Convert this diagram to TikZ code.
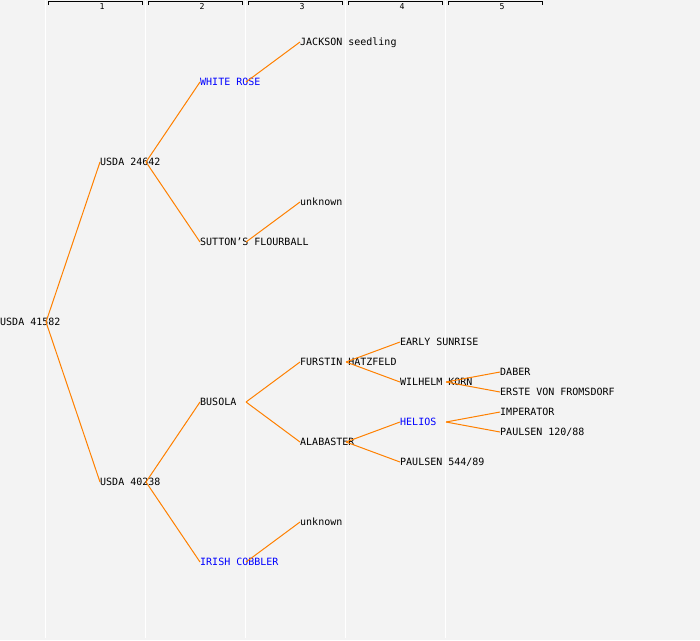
\documentclass[tikz,border=0pt]{standalone}
\usepackage{fontspec}
\setmonofont{DejaVu Sans Mono}
\definecolor{pagegray}{RGB}{243,243,243}
\definecolor{linkorange}{RGB}{255,128,0}

\begin{document}
\begin{tikzpicture}[x=1pt,y=-1pt,
    cv/.style={anchor=west,inner sep=0pt,text height=7.3pt,text depth=0pt,
      font=\ttfamily\fontsize{10}{10}\selectfont},
    rare/.style={text=blue},
    link/.style={draw=linkorange,line width=1pt},
    genline/.style={draw=white,line width=1pt},
    genno/.style={inner sep=0pt,font=\ttfamily\fontsize{8.2}{9}\selectfont},
   ]
   \fill[pagegray] (0,0) rectangle (700,640);
   \useasboundingbox (0,0) rectangle (700,640);
   \foreach \g in {1,...,5}{
     \draw[genline] ({100*\g-55},0) -- ({100*\g-55},638);
     \draw[line width=1pt] ({100*\g-52},5) -- ({100*\g-52},1.5) -- ({100*\g+42},1.5) -- ({100*\g+42},5);
     \node[genno] (g\g) at ({100*\g+2},6.5) {\g};
   }
   \begin{scope}[nodes={cv}]
     \path (0,322) node (root) {USDA 41582}
       (100,162) node (p) {USDA 24642}
       (100,482) node (m) {USDA 40238}
       (200,82) node[rare] (pp) {WHITE ROSE}
       (200,242) node (pm) {SUTTON’S FLOURBALL}
       (200,402) node (mp) {BUSOLA}
       (200,562) node[rare] (mm) {IRISH COBBLER}
       (300,42) node (ppp) {JACKSON seedling}
       (300,202) node (pmp) {unknown}
       (300,362) node (mpp) {FURSTIN HATZFELD}
       (300,442) node (mpm) {ALABASTER}
       (300,522) node (mmp) {unknown}
       (400,342) node (mppp) {EARLY SUNRISE}
       (400,382) node (mppm) {WILHELM KORN}
       (400,422) node[rare] (mpmp) {HELIOS}
       (400,462) node (mpmm) {PAULSEN 544/89}
       (500,372) node (mppmp) {DABER}
       (500,392) node (mppmm) {ERSTE VON FROMSDORF}
       (500,412) node (mpmpp) {IMPERATOR}
       (500,432) node (mpmpm) {PAULSEN 120/88};
   \end{scope}
   \foreach \a/\b in {root/p,root/m,p/pp,p/pm,m/mp,m/mm,pp/ppp,pm/pmp,
       mp/mpp,mp/mpm,mm/mmp,mpp/mppp,mpp/mppm,mpm/mpmp,mpm/mpmm,
       mppm/mppmp,mppm/mppmm,mpmp/mpmpp,mpmp/mpmpm}
     \draw[link] ([xshift=46pt]\a.west) -- (\b.west);
\end{tikzpicture}
\end{document}
